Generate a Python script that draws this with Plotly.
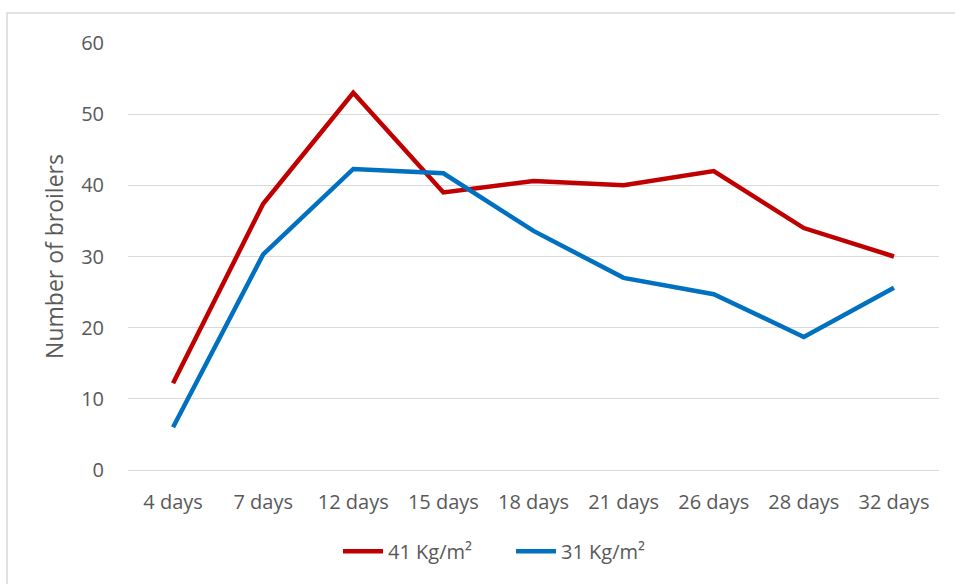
import plotly.graph_objects as go

# Broiler counts by age, two stocking densities
days = ["4 days", "7 days", "12 days", "15 days", "18 days", "21 days", "26 days", "28 days", "32 days"]
density_41 = [12.2, 37.4, 53.0, 39.0, 40.6, 40.0, 42.0, 34.0, 30.0]
density_31 = [6.0, 30.3, 42.3, 41.7, 33.6, 27.0, 24.7, 18.7, 25.6]

W, H = 955, 584
L, R, T, B = 128, 16, 43, 114
pw, ph = W - L - R, H - T - B

fig = go.Figure()
fig.add_trace(go.Scatter(x=days, y=density_41, mode="lines", name="41 Kg/m²",
                         line=dict(color="#C00000", width=4.5)))
fig.add_trace(go.Scatter(x=days, y=density_31, mode="lines", name="31 Kg/m²",
                         line=dict(color="#0070C0", width=4.5)))

font_family = "'Open Sans', sans-serif"

fig.update_layout(
    width=W, height=H,
    margin=dict(l=L, r=R, t=T, b=B),
    paper_bgcolor="white", plot_bgcolor="white",
    font=dict(family=font_family, color="#595959", size=20),
    xaxis=dict(type="category", range=[-0.5, 8.5], showgrid=False,
               showline=False, ticks="", ticklabelstandoff=18,
               tickfont=dict(size=20, color="#595959")),
    yaxis=dict(range=[0, 60], dtick=10, showgrid=True, gridcolor="#D9D9D9",
               gridwidth=1.3, zeroline=True, zerolinecolor="#D9D9D9", zerolinewidth=1.3,
               showline=False, ticks="", ticklabelstandoff=23,
               tickfont=dict(size=20, color="#595959"),
               title=dict(text="Number of broilers", font=dict(size=23, color="#595959"),
                          standoff=11)),
    showlegend=True,
    legend=dict(orientation="h", x=(338 - L) / pw, xanchor="left", y=-0.19, yanchor="middle",
                font=dict(size=20, color="#595959"), itemwidth=40,
                entrywidth=118, entrywidthmode="pixels",
                traceorder="normal"),
    shapes=[dict(type="rect", xref="paper", yref="paper",
                 x0=(7 - L) / pw, x1=(W + 5 - L) / pw,
                 y0=-(H + 5 - (H - B)) / ph, y1=((H - B) - 13) / ph,
                 line=dict(color="#D9D9D9", width=1.5), fillcolor="rgba(0,0,0,0)",
                 layer="below")],
)

fig.write_html("out.html")
